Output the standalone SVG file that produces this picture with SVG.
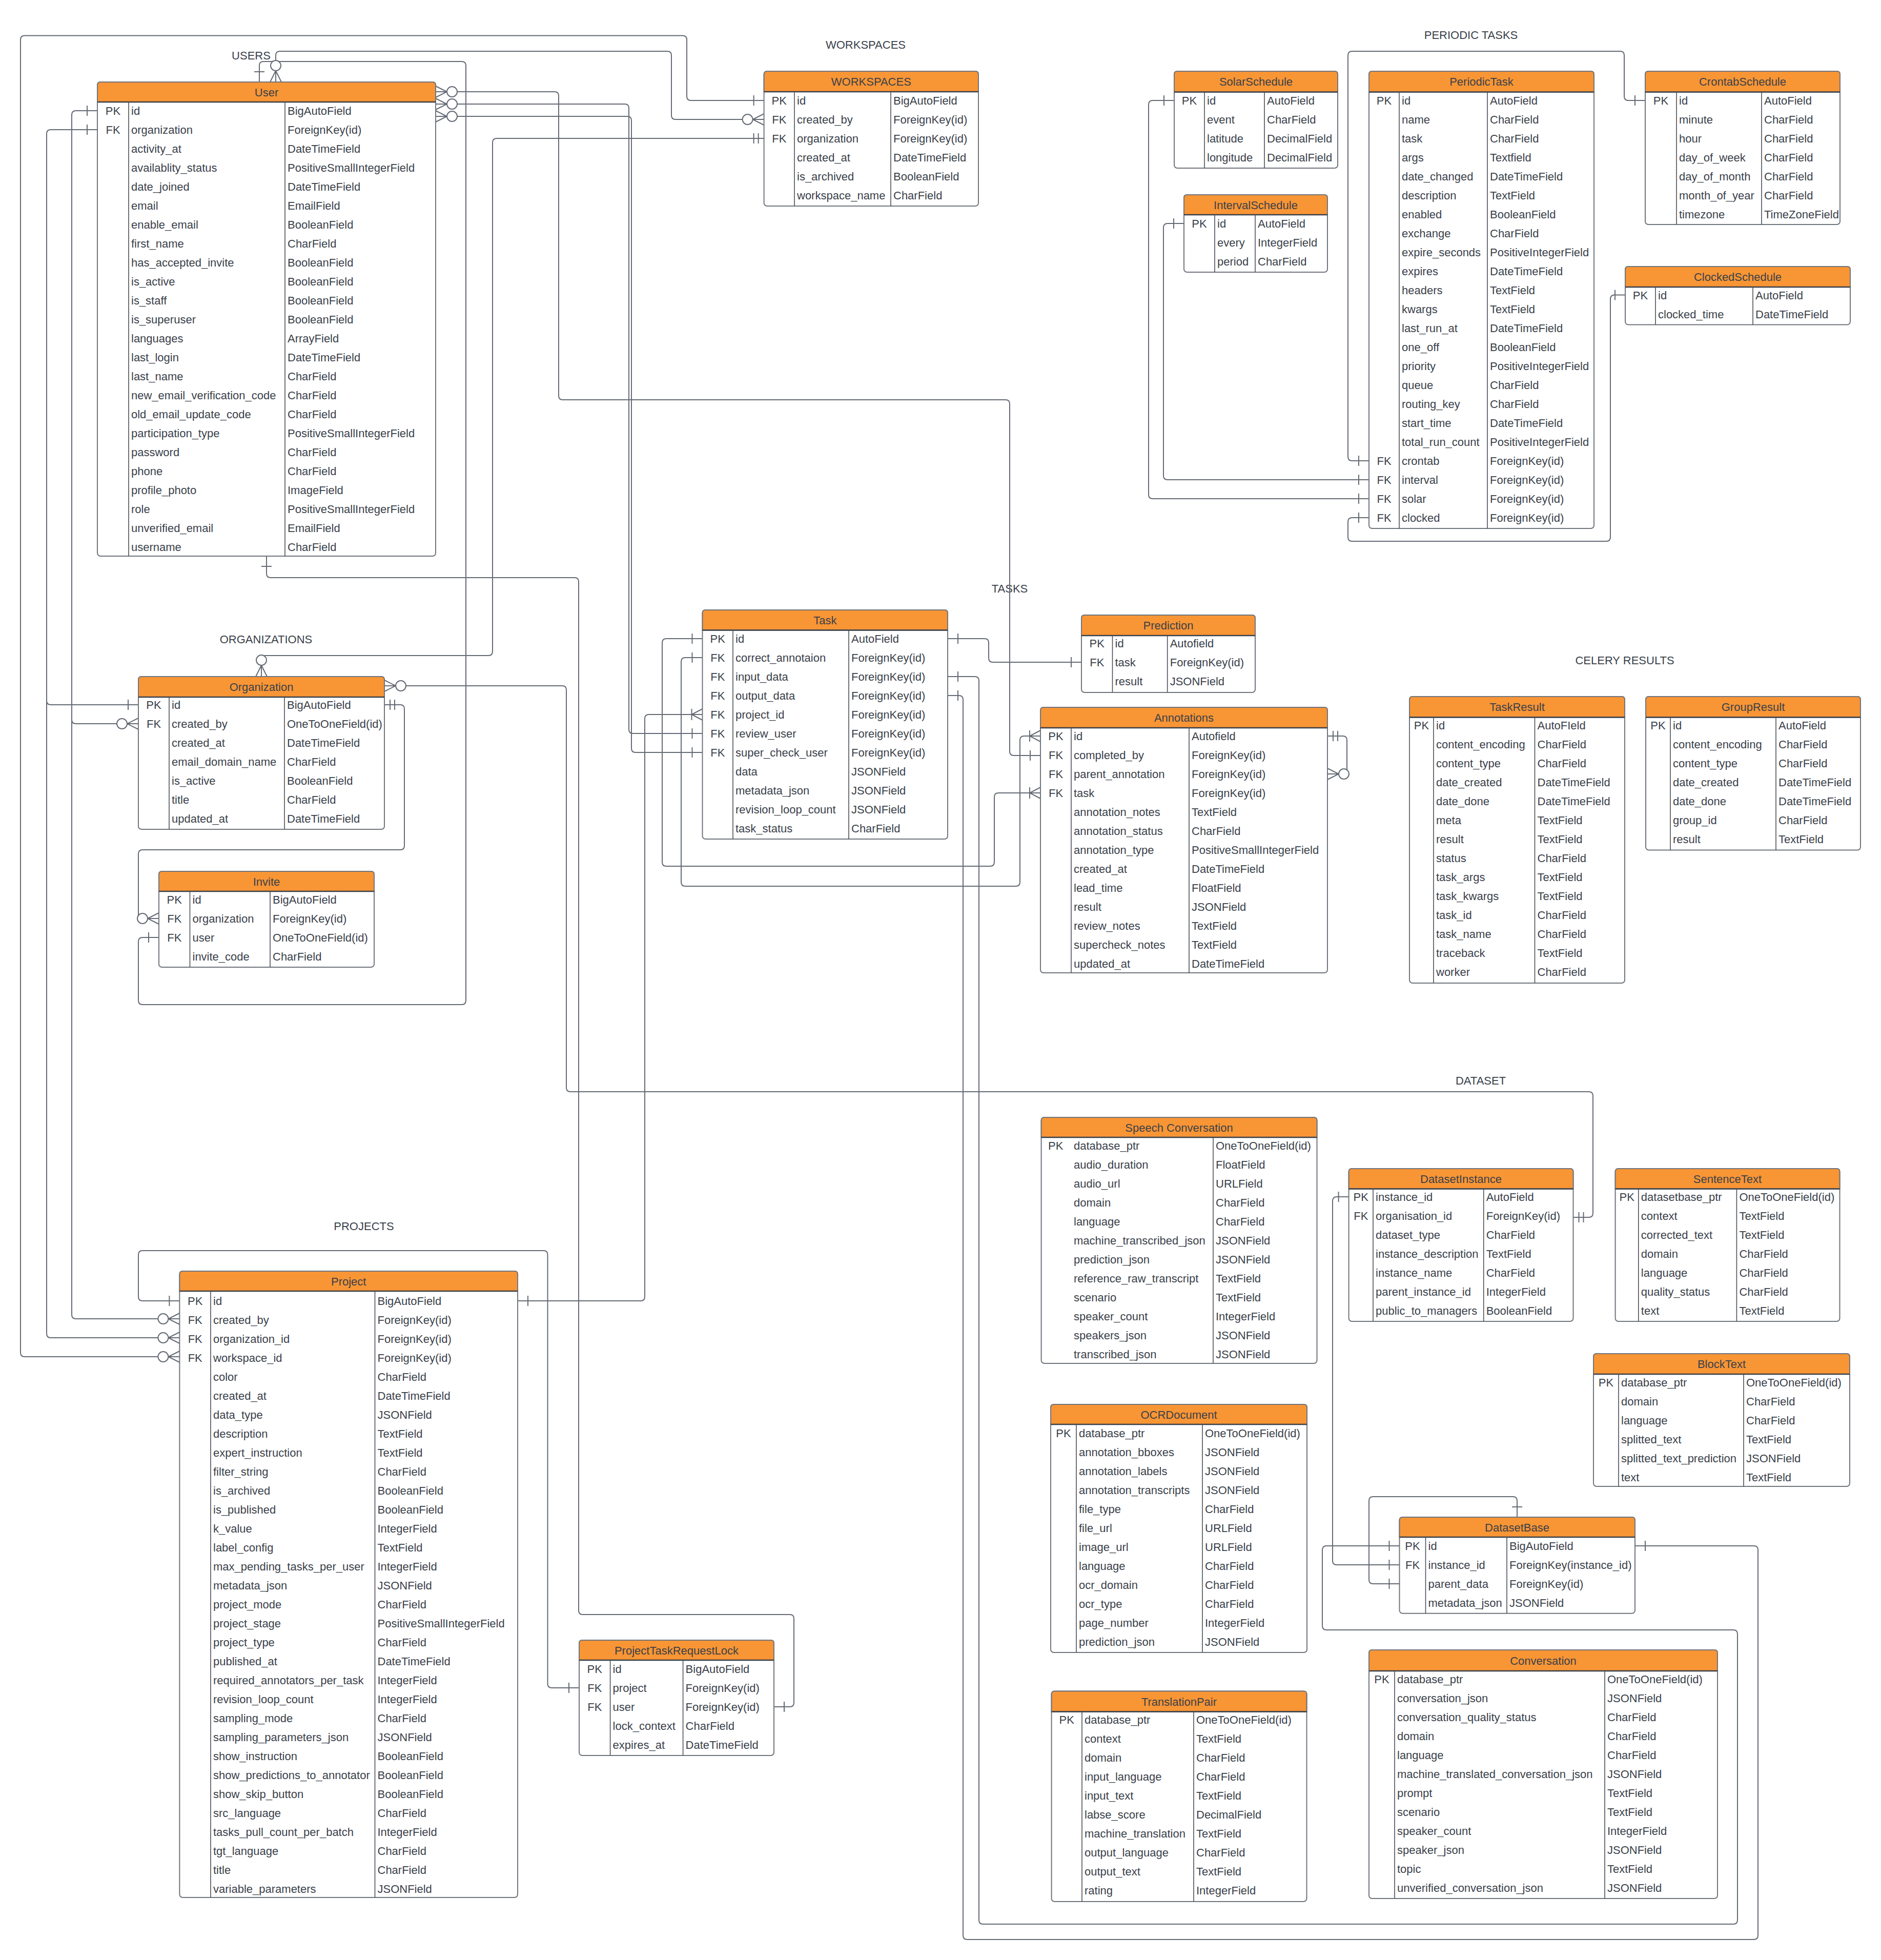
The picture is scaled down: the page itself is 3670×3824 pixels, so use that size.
<svg xmlns="http://www.w3.org/2000/svg" width="3670" height="3824" viewBox="0 0 3670 3824">
<style>
text{font-family:"Liberation Sans",Arial,sans-serif;font-size:22px;fill:#3a414a}
.c{text-anchor:middle}
.bx{fill:#fff;stroke:#70757d;stroke-width:2}
.hd{fill:#f89535;stroke:#70757d;stroke-width:2}
.hl{fill:none;stroke:#3a414a;stroke-width:2.5}
.sp{fill:none;stroke:#4a5059;stroke-width:1.6}
.cn{fill:none;stroke:#646a74;stroke-width:2;stroke-linejoin:round}
</style>
<defs>
<g id="one"><path d="M-20,-10V10" fill="none" stroke="#646a74" stroke-width="2"/></g>
<g id="one1"><path d="M-20,-10V10M-11,-10V10" fill="none" stroke="#646a74" stroke-width="2"/></g>
<g id="zm"><path d="M0,-11L-22,0L0,11" fill="none" stroke="#646a74" stroke-width="2"/><circle cx="-32" cy="0" r="10" fill="#fff" stroke="#646a74" stroke-width="2"/></g>
<g id="om"><path d="M0,-11L-21,0L0,11M-21,-11V11" fill="none" stroke="#646a74" stroke-width="2"/></g>
</defs>
<rect width="3670" height="3824" fill="#fff"/>

<!-- section captions -->
<g id="captions">
<text class="c" x="490" y="116">USERS</text>
<text class="c" x="1689" y="95">WORKSPACES</text>
<text class="c" x="2870" y="76">PERIODIC TASKS</text>
<text class="c" x="1970" y="1156">TASKS</text>
<text class="c" x="519" y="1255">ORGANIZATIONS</text>
<text class="c" x="3170" y="1296">CELERY RESULTS</text>
<text class="c" x="2889" y="2116">DATASET</text>
<text class="c" x="710" y="2400">PROJECTS</text>
</g>

<!-- relationship lines -->
<g id="connectors">
<path class="cn" d="M1490.6,196H1348Q1340,196 1340,188V77.5Q1340,69.5 1332,69.5H48Q40,69.5 40,77.5V2639Q40,2647 48,2647H350.4"/>
<path class="cn" d="M538,160V108Q538,100 546,100H1302Q1310,100 1310,108V225Q1310,233 1318,233H1490.6"/>
<path class="cn" d="M506,160V128Q506,120 514,120H901Q909,120 909,128V1952Q909,1960 901,1960H278Q270,1960 270,1952V1837Q270,1829 278,1829H310"/>
<path class="cn" d="M1490.6,270H969Q961,270 961,278V1271Q961,1279 953,1279H518Q510,1279 510,1287V1320"/>
<path class="cn" d="M190,216H148Q140,216 140,224V1404Q140,1412 148,1412H270"/>
<path class="cn" d="M140,1404V2565Q140,2573 148,2573H350.4"/>
<path class="cn" d="M190,253H99Q91,253 91,261V1367Q91,1375 99,1375H270"/>
<path class="cn" d="M91,1367V2602Q91,2610 99,2610H350.4"/>
<path class="cn" d="M750,1338H1097Q1105,1338 1105,1346V2122Q1105,2130 1113,2130H3100Q3108,2130 3108,2138V2367Q3108,2375 3100,2375H3069.5"/>
<path class="cn" d="M750,1375H781Q789,1375 789,1383V1650Q789,1658 781,1658H278Q270,1658 270,1666V1784Q270,1792 278,1792H310"/>
<path class="cn" d="M850,179H1082Q1090,179 1090,187V772Q1090,780 1098,780H1962Q1970,780 1970,788V1466Q1970,1474 1978,1474H2030"/>
<path class="cn" d="M850,203H1219Q1227,203 1227,211V1423Q1227,1431 1235,1431H1370.5"/>
<path class="cn" d="M850,227H1224Q1232,227 1232,235V1460Q1232,1468 1240,1468H1370.5"/>
<path class="cn" d="M1849,1246H1921Q1929,1246 1929,1254V1284Q1929,1292 1937,1292H2110"/>
<path class="cn" d="M1370.5,1246H1300Q1292,1246 1292,1254V1682Q1292,1690 1300,1690H1932Q1940,1690 1940,1682V1555Q1940,1547 1948,1547H2030"/>
<path class="cn" d="M1370.5,1283H1337Q1329,1283 1329,1291V1721Q1329,1729 1337,1729H1982Q1990,1729 1990,1721V1444Q1990,1436 1998,1436H2030"/>
<path class="cn" d="M1370.5,1394H1266Q1258,1394 1258,1402V2530Q1258,2538 1250,2538H1010"/>
<path class="cn" d="M1849,1320H1902Q1910,1320 1910,1328V3746Q1910,3754 1918,3754H3382Q3390,3754 3390,3746V3188Q3390,3180 3382,3180H2588Q2580,3180 2580,3172V3024Q2580,3016 2588,3016H2730.5"/>
<path class="cn" d="M1849,1357H1871Q1879,1357 1879,1365V3776Q1879,3784 1887,3784H3422Q3430,3784 3430,3776V3024Q3430,3016 3422,3016H3190"/>
<path class="cn" d="M2590,1436H2620Q2628,1436 2628,1444V1502Q2628,1510 2620,1510H2590"/>
<path class="cn" d="M350.4,2538H278Q270,2538 270,2530V2448Q270,2440 278,2440H1060.5Q1068.5,2440 1068.5,2448V3285Q1068.5,3293 1076.5,3293H1130"/>
<path class="cn" d="M520,1085V1119Q520,1127 528,1127H1121Q1129,1127 1129,1135V3142Q1129,3150 1137,3150H1541Q1549,3150 1549,3158V3322Q1549,3330 1541,3330H1510"/>
<path class="cn" d="M2960,2960V2928Q2960,2920 2952,2920H2679Q2671,2920 2671,2928V3082Q2671,3090 2679,3090H2730.5"/>
<path class="cn" d="M2730.5,3053H2608Q2600,3053 2600,3045V2343Q2600,2335 2608,2335H2631.6"/>
<path class="cn" d="M2671,899H2638Q2630,899 2630,891V108Q2630,100 2638,100H3161Q3169,100 3169,108V188Q3169,196 3177,196H3210"/>
<path class="cn" d="M2671,936H2278Q2270,936 2270,928V444Q2270,436 2278,436H2310"/>
<path class="cn" d="M2671,973H2249Q2241,973 2241,965V204Q2241,196 2249,196H2291"/>
<path class="cn" d="M2671,1010H2638Q2630,1010 2630,1018V1048Q2630,1056 2638,1056H3134Q3142,1056 3142,1048V583.5Q3142,575.5 3150,575.5H3171"/>
<!-- end notations -->
<use href="#one" transform="translate(1490.6,196)"/>
<use href="#zm" transform="translate(350.4,2647)"/>
<use href="#zm" transform="translate(538,160) rotate(90)"/>
<use href="#zm" transform="translate(1490.6,233)"/>
<use href="#one" transform="translate(506,160) rotate(90)"/>
<use href="#one" transform="translate(310,1829)"/>
<use href="#one1" transform="translate(1490.6,270)"/>
<use href="#zm" transform="translate(510,1320) rotate(90)"/>
<use href="#one" transform="translate(190,216)"/>
<use href="#zm" transform="translate(270,1412)"/>
<use href="#zm" transform="translate(350.4,2573)"/>
<use href="#one" transform="translate(190,253)"/>
<use href="#one" transform="translate(270,1375)"/>
<use href="#zm" transform="translate(350.4,2610)"/>
<use href="#zm" transform="translate(750,1338) scale(-1,1)"/>
<use href="#one1" transform="translate(3069.5,2375) scale(-1,1)"/>
<use href="#one1" transform="translate(750,1375) scale(-1,1)"/>
<use href="#zm" transform="translate(310,1792)"/>
<use href="#zm" transform="translate(850,179) scale(-1,1)"/>
<use href="#one" transform="translate(2030,1474)"/>
<use href="#zm" transform="translate(850,203) scale(-1,1)"/>
<use href="#one" transform="translate(1370.5,1431)"/>
<use href="#zm" transform="translate(850,227) scale(-1,1)"/>
<use href="#one" transform="translate(1370.5,1468)"/>
<use href="#one" transform="translate(1849,1246) scale(-1,1)"/>
<use href="#one" transform="translate(2110,1292)"/>
<use href="#one" transform="translate(1370.5,1246)"/>
<use href="#om" transform="translate(2030,1547)"/>
<use href="#one" transform="translate(1370.5,1283)"/>
<use href="#om" transform="translate(2030,1436)"/>
<use href="#om" transform="translate(1370.5,1394)"/>
<use href="#one" transform="translate(1010,2538) scale(-1,1)"/>
<use href="#one" transform="translate(1849,1320) scale(-1,1)"/>
<use href="#one" transform="translate(2730.5,3016)"/>
<use href="#one" transform="translate(1849,1357) scale(-1,1)"/>
<use href="#one" transform="translate(3190,3016) scale(-1,1)"/>
<use href="#one1" transform="translate(2590,1436) scale(-1,1)"/>
<use href="#zm" transform="translate(2590,1510) scale(-1,1)"/>
<use href="#one" transform="translate(350.4,2538)"/>
<use href="#one" transform="translate(1130,3293)"/>
<use href="#one" transform="translate(520,1085) rotate(-90)"/>
<use href="#one" transform="translate(1510,3330) scale(-1,1)"/>
<use href="#one" transform="translate(2960,2960) rotate(90)"/>
<use href="#one" transform="translate(2730.5,3090)"/>
<use href="#one" transform="translate(2730.5,3053)"/>
<use href="#one" transform="translate(2631.6,2335)"/>
<use href="#one" transform="translate(2671,899)"/>
<use href="#one" transform="translate(3210,196)"/>
<use href="#one" transform="translate(2671,936)"/>
<use href="#one" transform="translate(2310,436)"/>
<use href="#one" transform="translate(2671,973)"/>
<use href="#one" transform="translate(2291,196)"/>
<use href="#one" transform="translate(2671,1010)"/>
<use href="#one" transform="translate(3171,575.5)"/>
</g>

<g id="user">
<rect class="bx" x="190" y="160" width="660" height="925" rx="6"/>
<path class="hd" d="M190,199V166Q190,160 196,160H844Q850,160 850,166V199Z"/>
<path class="hl" d="M190,199H850"/>
<path class="sp" d="M251,199V1085M556,199V1085"/>
<text class="c" x="520" y="187.5">User</text>
<text class="c" x="220.5" y="224">PK<tspan x="220.5" dy="37">FK</tspan></text>
<text x="256" y="224">id<tspan x="256" dy="37">organization</tspan><tspan x="256" dy="37">activity_at</tspan><tspan x="256" dy="37">availablity_status</tspan><tspan x="256" dy="37">date_joined</tspan><tspan x="256" dy="37">email</tspan><tspan x="256" dy="37">enable_email</tspan><tspan x="256" dy="37">first_name</tspan><tspan x="256" dy="37">has_accepted_invite</tspan><tspan x="256" dy="37">is_active</tspan><tspan x="256" dy="37">is_staff</tspan><tspan x="256" dy="37">is_superuser</tspan><tspan x="256" dy="37">languages</tspan><tspan x="256" dy="37">last_login</tspan><tspan x="256" dy="37">last_name</tspan><tspan x="256" dy="37">new_email_verification_code</tspan><tspan x="256" dy="37">old_email_update_code</tspan><tspan x="256" dy="37">participation_type</tspan><tspan x="256" dy="37">password</tspan><tspan x="256" dy="37">phone</tspan><tspan x="256" dy="37">profile_photo</tspan><tspan x="256" dy="37">role</tspan><tspan x="256" dy="37">unverified_email</tspan><tspan x="256" dy="37">username</tspan></text>
<text x="561" y="224">BigAutoField<tspan x="561" dy="37">ForeignKey(id)</tspan><tspan x="561" dy="37">DateTimeField</tspan><tspan x="561" dy="37">PositiveSmallIntegerField</tspan><tspan x="561" dy="37">DateTimeField</tspan><tspan x="561" dy="37">EmailField</tspan><tspan x="561" dy="37">BooleanField</tspan><tspan x="561" dy="37">CharField</tspan><tspan x="561" dy="37">BooleanField</tspan><tspan x="561" dy="37">BooleanField</tspan><tspan x="561" dy="37">BooleanField</tspan><tspan x="561" dy="37">BooleanField</tspan><tspan x="561" dy="37">ArrayField</tspan><tspan x="561" dy="37">DateTimeField</tspan><tspan x="561" dy="37">CharField</tspan><tspan x="561" dy="37">CharField</tspan><tspan x="561" dy="37">CharField</tspan><tspan x="561" dy="37">PositiveSmallIntegerField</tspan><tspan x="561" dy="37">CharField</tspan><tspan x="561" dy="37">CharField</tspan><tspan x="561" dy="37">ImageField</tspan><tspan x="561" dy="37">PositiveSmallIntegerField</tspan><tspan x="561" dy="37">EmailField</tspan><tspan x="561" dy="37">CharField</tspan></text>
</g>

<g id="workspaces">
<rect class="bx" x="1490.6" y="139" width="418.4" height="263" rx="6"/>
<path class="hd" d="M1490.6,179V145Q1490.6,139 1496.6,139H1903Q1909,139 1909,145V179Z"/>
<path class="hl" d="M1490.6,179H1909"/>
<path class="sp" d="M1550,179V402M1738,179V402"/>
<text class="c" x="1699.8" y="167">WORKSPACES</text>
<text class="c" x="1520.3" y="204">PK<tspan x="1520.3" dy="37">FK</tspan><tspan x="1520.3" dy="37">FK</tspan></text>
<text x="1555" y="204">id<tspan x="1555" dy="37">created_by</tspan><tspan x="1555" dy="37">organization</tspan><tspan x="1555" dy="37">created_at</tspan><tspan x="1555" dy="37">is_archived</tspan><tspan x="1555" dy="37">workspace_name</tspan></text>
<text x="1743" y="204">BigAutoField<tspan x="1743" dy="37">ForeignKey(id)</tspan><tspan x="1743" dy="37">ForeignKey(id)</tspan><tspan x="1743" dy="37">DateTimeField</tspan><tspan x="1743" dy="37">BooleanField</tspan><tspan x="1743" dy="37">CharField</tspan></text>
</g>

<g id="solar-schedule">
<rect class="bx" x="2291" y="139" width="319" height="189" rx="6"/>
<path class="hd" d="M2291,179.5V145Q2291,139 2297,139H2604Q2610,139 2610,145V179.5Z"/>
<path class="hl" d="M2291,179.5H2610"/>
<path class="sp" d="M2350,179.5V328M2467,179.5V328"/>
<text class="c" x="2450.5" y="167">SolarSchedule</text>
<text class="c" x="2320.5" y="204">PK</text>
<text x="2355" y="204">id<tspan x="2355" dy="37">event</tspan><tspan x="2355" dy="37">latitude</tspan><tspan x="2355" dy="37">longitude</tspan></text>
<text x="2472" y="204">AutoField<tspan x="2472" dy="37">CharField</tspan><tspan x="2472" dy="37">DecimalField</tspan><tspan x="2472" dy="37">DecimalField</tspan></text>
</g>

<g id="interval-schedule">
<rect class="bx" x="2310" y="380" width="280" height="151" rx="6"/>
<path class="hd" d="M2310,419V386Q2310,380 2316,380H2584Q2590,380 2590,386V419Z"/>
<path class="hl" d="M2310,419H2590"/>
<path class="sp" d="M2370,419V531M2449,419V531"/>
<text class="c" x="2450" y="407.5">IntervalSchedule</text>
<text class="c" x="2340" y="444">PK</text>
<text x="2375" y="444">id<tspan x="2375" dy="37">every</tspan><tspan x="2375" dy="37">period</tspan></text>
<text x="2454" y="444">AutoField<tspan x="2454" dy="37">IntegerField</tspan><tspan x="2454" dy="37">CharField</tspan></text>
</g>

<g id="periodic-task">
<rect class="bx" x="2671" y="139" width="439" height="892" rx="6"/>
<path class="hd" d="M2671,179.5V145Q2671,139 2677,139H3104Q3110,139 3110,145V179.5Z"/>
<path class="hl" d="M2671,179.5H3110"/>
<path class="sp" d="M2730,179.5V1031M2902,179.5V1031"/>
<text class="c" x="2890.5" y="167">PeriodicTask</text>
<text class="c" x="2700.5" y="204">PK</text>
<text class="c" x="2700.5" y="907">FK<tspan x="2700.5" dy="37">FK</tspan><tspan x="2700.5" dy="37">FK</tspan><tspan x="2700.5" dy="37">FK</tspan></text>
<text x="2735" y="204">id<tspan x="2735" dy="37">name</tspan><tspan x="2735" dy="37">task</tspan><tspan x="2735" dy="37">args</tspan><tspan x="2735" dy="37">date_changed</tspan><tspan x="2735" dy="37">description</tspan><tspan x="2735" dy="37">enabled</tspan><tspan x="2735" dy="37">exchange</tspan><tspan x="2735" dy="37">expire_seconds</tspan><tspan x="2735" dy="37">expires</tspan><tspan x="2735" dy="37">headers</tspan><tspan x="2735" dy="37">kwargs</tspan><tspan x="2735" dy="37">last_run_at</tspan><tspan x="2735" dy="37">one_off</tspan><tspan x="2735" dy="37">priority</tspan><tspan x="2735" dy="37">queue</tspan><tspan x="2735" dy="37">routing_key</tspan><tspan x="2735" dy="37">start_time</tspan><tspan x="2735" dy="37">total_run_count</tspan><tspan x="2735" dy="37">crontab</tspan><tspan x="2735" dy="37">interval</tspan><tspan x="2735" dy="37">solar</tspan><tspan x="2735" dy="37">clocked</tspan></text>
<text x="2907" y="204">AutoField<tspan x="2907" dy="37">CharField</tspan><tspan x="2907" dy="37">CharField</tspan><tspan x="2907" dy="37">Textfield</tspan><tspan x="2907" dy="37">DateTimeField</tspan><tspan x="2907" dy="37">TextField</tspan><tspan x="2907" dy="37">BooleanField</tspan><tspan x="2907" dy="37">CharField</tspan><tspan x="2907" dy="37">PositiveIntegerField</tspan><tspan x="2907" dy="37">DateTimeField</tspan><tspan x="2907" dy="37">TextField</tspan><tspan x="2907" dy="37">TextField</tspan><tspan x="2907" dy="37">DateTimeField</tspan><tspan x="2907" dy="37">BooleanField</tspan><tspan x="2907" dy="37">PositiveIntegerField</tspan><tspan x="2907" dy="37">CharField</tspan><tspan x="2907" dy="37">CharField</tspan><tspan x="2907" dy="37">DateTimeField</tspan><tspan x="2907" dy="37">PositiveIntegerField</tspan><tspan x="2907" dy="37">ForeignKey(id)</tspan><tspan x="2907" dy="37">ForeignKey(id)</tspan><tspan x="2907" dy="37">ForeignKey(id)</tspan><tspan x="2907" dy="37">ForeignKey(id)</tspan></text>
</g>

<g id="crontab-schedule">
<rect class="bx" x="3210" y="139" width="380" height="299" rx="6"/>
<path class="hd" d="M3210,179.5V145Q3210,139 3216,139H3584Q3590,139 3590,145V179.5Z"/>
<path class="hl" d="M3210,179.5H3590"/>
<path class="sp" d="M3271,179.5V438M3437,179.5V438"/>
<text class="c" x="3400" y="167">CrontabSchedule</text>
<text class="c" x="3240.5" y="204">PK</text>
<text x="3276" y="204">id<tspan x="3276" dy="37">minute</tspan><tspan x="3276" dy="37">hour</tspan><tspan x="3276" dy="37">day_of_week</tspan><tspan x="3276" dy="37">day_of_month</tspan><tspan x="3276" dy="37">month_of_year</tspan><tspan x="3276" dy="37">timezone</tspan></text>
<text x="3442" y="204">AutoField<tspan x="3442" dy="37">CharField</tspan><tspan x="3442" dy="37">CharField</tspan><tspan x="3442" dy="37">CharField</tspan><tspan x="3442" dy="37">CharField</tspan><tspan x="3442" dy="37">CharField</tspan><tspan x="3442" dy="37">TimeZoneField</tspan></text>
</g>

<g id="clocked-schedule">
<rect class="bx" x="3171" y="520" width="439" height="113.6" rx="6"/>
<path class="hd" d="M3171,560V526Q3171,520 3177,520H3604Q3610,520 3610,526V560Z"/>
<path class="hl" d="M3171,560H3610"/>
<path class="sp" d="M3230,560V633.6M3420,560V633.6"/>
<text class="c" x="3390.5" y="548">ClockedSchedule</text>
<text class="c" x="3200.5" y="583.5">PK</text>
<text x="3235" y="583.5">id<tspan x="3235" dy="37">clocked_time</tspan></text>
<text x="3425" y="583.5">AutoField<tspan x="3425" dy="37">DateTimeField</tspan></text>
</g>

<g id="task">
<rect class="bx" x="1370.5" y="1190" width="478.5" height="447" rx="6"/>
<path class="hd" d="M1370.5,1229.5V1196Q1370.5,1190 1376.5,1190H1843Q1849,1190 1849,1196V1229.5Z"/>
<path class="hl" d="M1370.5,1229.5H1849"/>
<path class="sp" d="M1430,1229.5V1637M1656,1229.5V1637"/>
<text class="c" x="1609.8" y="1218">Task</text>
<text class="c" x="1400.3" y="1254">PK<tspan x="1400.3" dy="37">FK</tspan><tspan x="1400.3" dy="37">FK</tspan><tspan x="1400.3" dy="37">FK</tspan><tspan x="1400.3" dy="37">FK</tspan><tspan x="1400.3" dy="37">FK</tspan><tspan x="1400.3" dy="37">FK</tspan></text>
<text x="1435" y="1254">id<tspan x="1435" dy="37">correct_annotaion</tspan><tspan x="1435" dy="37">input_data</tspan><tspan x="1435" dy="37">output_data</tspan><tspan x="1435" dy="37">project_id</tspan><tspan x="1435" dy="37">review_user</tspan><tspan x="1435" dy="37">super_check_user</tspan><tspan x="1435" dy="37">data</tspan><tspan x="1435" dy="37">metadata_json</tspan><tspan x="1435" dy="37">revision_loop_count</tspan><tspan x="1435" dy="37">task_status</tspan></text>
<text x="1661" y="1254">AutoField<tspan x="1661" dy="37">ForeignKey(id)</tspan><tspan x="1661" dy="37">ForeignKey(id)</tspan><tspan x="1661" dy="37">ForeignKey(id)</tspan><tspan x="1661" dy="37">ForeignKey(id)</tspan><tspan x="1661" dy="37">ForeignKey(id)</tspan><tspan x="1661" dy="37">ForeignKey(id)</tspan><tspan x="1661" dy="37">JSONField</tspan><tspan x="1661" dy="37">JSONField</tspan><tspan x="1661" dy="37">JSONField</tspan><tspan x="1661" dy="37">CharField</tspan></text>
</g>

<g id="prediction">
<rect class="bx" x="2110" y="1200" width="339" height="151" rx="6"/>
<path class="hd" d="M2110,1240V1206Q2110,1200 2116,1200H2443Q2449,1200 2449,1206V1240Z"/>
<path class="hl" d="M2110,1240H2449"/>
<path class="sp" d="M2170.5,1240V1351M2277.7,1240V1351"/>
<text class="c" x="2279.5" y="1228">Prediction</text>
<text class="c" x="2140.3" y="1263">PK<tspan x="2140.3" dy="37">FK</tspan></text>
<text x="2175.5" y="1263">id<tspan x="2175.5" dy="37">task</tspan><tspan x="2175.5" dy="37">result</tspan></text>
<text x="2282.7" y="1263">Autofield<tspan x="2282.7" dy="37">ForeignKey(id)</tspan><tspan x="2282.7" dy="37">JSONField</tspan></text>
</g>

<g id="annotations">
<rect class="bx" x="2030" y="1380" width="560" height="518" rx="6"/>
<path class="hd" d="M2030,1420V1386Q2030,1380 2036,1380H2584Q2590,1380 2590,1386V1420Z"/>
<path class="hl" d="M2030,1420H2590"/>
<path class="sp" d="M2090,1420V1898M2320,1420V1898"/>
<text class="c" x="2310" y="1408">Annotations</text>
<text class="c" x="2060" y="1444">PK<tspan x="2060" dy="37">FK</tspan><tspan x="2060" dy="37">FK</tspan><tspan x="2060" dy="37">FK</tspan></text>
<text x="2095" y="1444">id<tspan x="2095" dy="37">completed_by</tspan><tspan x="2095" dy="37">parent_annotation</tspan><tspan x="2095" dy="37">task</tspan><tspan x="2095" dy="37">annotation_notes</tspan><tspan x="2095" dy="37">annotation_status</tspan><tspan x="2095" dy="37">annotation_type</tspan><tspan x="2095" dy="37">created_at</tspan><tspan x="2095" dy="37">lead_time</tspan><tspan x="2095" dy="37">result</tspan><tspan x="2095" dy="37">review_notes</tspan><tspan x="2095" dy="37">supercheck_notes</tspan><tspan x="2095" dy="37">updated_at</tspan></text>
<text x="2325" y="1444">Autofield<tspan x="2325" dy="37">ForeignKey(id)</tspan><tspan x="2325" dy="37">ForeignKey(id)</tspan><tspan x="2325" dy="37">ForeignKey(id)</tspan><tspan x="2325" dy="37">TextField</tspan><tspan x="2325" dy="37">CharField</tspan><tspan x="2325" dy="37">PositiveSmallIntegerField</tspan><tspan x="2325" dy="37">DateTimeField</tspan><tspan x="2325" dy="37">FloatField</tspan><tspan x="2325" dy="37">JSONField</tspan><tspan x="2325" dy="37">TextField</tspan><tspan x="2325" dy="37">TextField</tspan><tspan x="2325" dy="37">DateTimeField</tspan></text>
</g>

<g id="organization">
<rect class="bx" x="270" y="1320" width="480" height="298" rx="6"/>
<path class="hd" d="M270,1360V1326Q270,1320 276,1320H744Q750,1320 750,1326V1360Z"/>
<path class="hl" d="M270,1360H750"/>
<path class="sp" d="M330,1360V1618M555,1360V1618"/>
<text class="c" x="510" y="1348">Organization</text>
<text class="c" x="300" y="1383">PK<tspan x="300" dy="37">FK</tspan></text>
<text x="335" y="1383">id<tspan x="335" dy="37">created_by</tspan><tspan x="335" dy="37">created_at</tspan><tspan x="335" dy="37">email_domain_name</tspan><tspan x="335" dy="37">is_active</tspan><tspan x="335" dy="37">title</tspan><tspan x="335" dy="37">updated_at</tspan></text>
<text x="560" y="1383">BigAutoField<tspan x="560" dy="37">OneToOneField(id)</tspan><tspan x="560" dy="37">DateTimeField</tspan><tspan x="560" dy="37">CharField</tspan><tspan x="560" dy="37">BooleanField</tspan><tspan x="560" dy="37">CharField</tspan><tspan x="560" dy="37">DateTimeField</tspan></text>
</g>

<g id="invite">
<rect class="bx" x="310" y="1700" width="420" height="187" rx="6"/>
<path class="hd" d="M310,1739V1706Q310,1700 316,1700H724Q730,1700 730,1706V1739Z"/>
<path class="hl" d="M310,1739H730"/>
<path class="sp" d="M370.5,1739V1887M527,1739V1887"/>
<text class="c" x="520" y="1727.5">Invite</text>
<text class="c" x="340.3" y="1762.6">PK<tspan x="340.3" dy="37">FK</tspan><tspan x="340.3" dy="37">FK</tspan></text>
<text x="375.5" y="1762.6">id<tspan x="375.5" dy="37">organization</tspan><tspan x="375.5" dy="37">user</tspan><tspan x="375.5" dy="37">invite_code</tspan></text>
<text x="532" y="1762.6">BigAutoField<tspan x="532" dy="37">ForeignKey(id)</tspan><tspan x="532" dy="37">OneToOneField(id)</tspan><tspan x="532" dy="37">CharField</tspan></text>
</g>

<g id="project">
<rect class="bx" x="350.4" y="2480" width="659.6" height="1222" rx="6"/>
<path class="hd" d="M350.4,2519V2486Q350.4,2480 356.4,2480H1004Q1010,2480 1010,2486V2519Z"/>
<path class="hl" d="M350.4,2519H1010"/>
<path class="sp" d="M411,2519V3702M731.5,2519V3702"/>
<text class="c" x="680.2" y="2507.5">Project</text>
<text class="c" x="380.7" y="2546">PK<tspan x="380.7" dy="37">FK</tspan><tspan x="380.7" dy="37">FK</tspan><tspan x="380.7" dy="37">FK</tspan></text>
<text x="416" y="2546">id<tspan x="416" dy="37">created_by</tspan><tspan x="416" dy="37">organization_id</tspan><tspan x="416" dy="37">workspace_id</tspan><tspan x="416" dy="37">color</tspan><tspan x="416" dy="37">created_at</tspan><tspan x="416" dy="37">data_type</tspan><tspan x="416" dy="37">description</tspan><tspan x="416" dy="37">expert_instruction</tspan><tspan x="416" dy="37">filter_string</tspan><tspan x="416" dy="37">is_archived</tspan><tspan x="416" dy="37">is_published</tspan><tspan x="416" dy="37">k_value</tspan><tspan x="416" dy="37">label_config</tspan><tspan x="416" dy="37">max_pending_tasks_per_user</tspan><tspan x="416" dy="37">metadata_json</tspan><tspan x="416" dy="37">project_mode</tspan><tspan x="416" dy="37">project_stage</tspan><tspan x="416" dy="37">project_type</tspan><tspan x="416" dy="37">published_at</tspan><tspan x="416" dy="37">required_annotators_per_task</tspan><tspan x="416" dy="37">revision_loop_count</tspan><tspan x="416" dy="37">sampling_mode</tspan><tspan x="416" dy="37">sampling_parameters_json</tspan><tspan x="416" dy="37">show_instruction</tspan><tspan x="416" dy="37">show_predictions_to_annotator</tspan><tspan x="416" dy="37">show_skip_button</tspan><tspan x="416" dy="37">src_language</tspan><tspan x="416" dy="37">tasks_pull_count_per_batch</tspan><tspan x="416" dy="37">tgt_language</tspan><tspan x="416" dy="37">title</tspan><tspan x="416" dy="37">variable_parameters</tspan></text>
<text x="736.5" y="2546">BigAutoField<tspan x="736.5" dy="37">ForeignKey(id)</tspan><tspan x="736.5" dy="37">ForeignKey(id)</tspan><tspan x="736.5" dy="37">ForeignKey(id)</tspan><tspan x="736.5" dy="37">CharField</tspan><tspan x="736.5" dy="37">DateTimeField</tspan><tspan x="736.5" dy="37">JSONField</tspan><tspan x="736.5" dy="37">TextField</tspan><tspan x="736.5" dy="37">TextField</tspan><tspan x="736.5" dy="37">CharField</tspan><tspan x="736.5" dy="37">BooleanField</tspan><tspan x="736.5" dy="37">BooleanField</tspan><tspan x="736.5" dy="37">IntegerField</tspan><tspan x="736.5" dy="37">TextField</tspan><tspan x="736.5" dy="37">IntegerField</tspan><tspan x="736.5" dy="37">JSONField</tspan><tspan x="736.5" dy="37">CharField</tspan><tspan x="736.5" dy="37">PositiveSmallIntegerField</tspan><tspan x="736.5" dy="37">CharField</tspan><tspan x="736.5" dy="37">DateTimeField</tspan><tspan x="736.5" dy="37">IntegerField</tspan><tspan x="736.5" dy="37">IntegerField</tspan><tspan x="736.5" dy="37">CharField</tspan><tspan x="736.5" dy="37">JSONField</tspan><tspan x="736.5" dy="37">BooleanField</tspan><tspan x="736.5" dy="37">BooleanField</tspan><tspan x="736.5" dy="37">BooleanField</tspan><tspan x="736.5" dy="37">CharField</tspan><tspan x="736.5" dy="37">IntegerField</tspan><tspan x="736.5" dy="37">CharField</tspan><tspan x="736.5" dy="37">CharField</tspan><tspan x="736.5" dy="37">JSONField</tspan></text>
</g>

<g id="project-task-request-lock">
<rect class="bx" x="1130" y="3200" width="380" height="225" rx="6"/>
<path class="hd" d="M1130,3239V3206Q1130,3200 1136,3200H1504Q1510,3200 1510,3206V3239Z"/>
<path class="hl" d="M1130,3239H1510"/>
<path class="sp" d="M1190.6,3239V3425M1332.6,3239V3425"/>
<text class="c" x="1320" y="3227.5">ProjectTaskRequestLock</text>
<text class="c" x="1160.3" y="3264">PK<tspan x="1160.3" dy="37">FK</tspan><tspan x="1160.3" dy="37">FK</tspan></text>
<text x="1195.6" y="3264">id<tspan x="1195.6" dy="37">project</tspan><tspan x="1195.6" dy="37">user</tspan><tspan x="1195.6" dy="37">lock_context</tspan><tspan x="1195.6" dy="37">expires_at</tspan></text>
<text x="1337.6" y="3264">BigAutoField<tspan x="1337.6" dy="37">ForeignKey(id)</tspan><tspan x="1337.6" dy="37">ForeignKey(id)</tspan><tspan x="1337.6" dy="37">CharField</tspan><tspan x="1337.6" dy="37">DateTimeField</tspan></text>
</g>

<g id="task-result">
<rect class="bx" x="2750" y="1359" width="420" height="559" rx="6"/>
<path class="hd" d="M2750,1399.5V1365Q2750,1359 2756,1359H3164Q3170,1359 3170,1365V1399.5Z"/>
<path class="hl" d="M2750,1399.5H3170"/>
<path class="sp" d="M2797,1399.5V1918M2994.5,1399.5V1918"/>
<text class="c" x="2960" y="1387">TaskResult</text>
<text class="c" x="2773.5" y="1423">PK</text>
<text x="2802" y="1423">id<tspan x="2802" dy="37">content_encoding</tspan><tspan x="2802" dy="37">content_type</tspan><tspan x="2802" dy="37">date_created</tspan><tspan x="2802" dy="37">date_done</tspan><tspan x="2802" dy="37">meta</tspan><tspan x="2802" dy="37">result</tspan><tspan x="2802" dy="37">status</tspan><tspan x="2802" dy="37">task_args</tspan><tspan x="2802" dy="37">task_kwargs</tspan><tspan x="2802" dy="37">task_id</tspan><tspan x="2802" dy="37">task_name</tspan><tspan x="2802" dy="37">traceback</tspan><tspan x="2802" dy="37">worker</tspan></text>
<text x="2999.5" y="1423">AutoFIeld<tspan x="2999.5" dy="37">CharField</tspan><tspan x="2999.5" dy="37">CharField</tspan><tspan x="2999.5" dy="37">DateTimeField</tspan><tspan x="2999.5" dy="37">DateTimeField</tspan><tspan x="2999.5" dy="37">TextField</tspan><tspan x="2999.5" dy="37">TextField</tspan><tspan x="2999.5" dy="37">CharField</tspan><tspan x="2999.5" dy="37">TextField</tspan><tspan x="2999.5" dy="37">TextField</tspan><tspan x="2999.5" dy="37">CharField</tspan><tspan x="2999.5" dy="37">CharField</tspan><tspan x="2999.5" dy="37">TextField</tspan><tspan x="2999.5" dy="37">CharField</tspan></text>
</g>

<g id="group-result">
<rect class="bx" x="3211" y="1359" width="419" height="299.5" rx="6"/>
<path class="hd" d="M3211,1399.5V1365Q3211,1359 3217,1359H3624Q3630,1359 3630,1365V1399.5Z"/>
<path class="hl" d="M3211,1399.5H3630"/>
<path class="sp" d="M3259,1399.5V1658.5M3465,1399.5V1658.5"/>
<text class="c" x="3420.5" y="1387">GroupResult</text>
<text class="c" x="3235" y="1423">PK</text>
<text x="3264" y="1423">id<tspan x="3264" dy="37">content_encoding</tspan><tspan x="3264" dy="37">content_type</tspan><tspan x="3264" dy="37">date_created</tspan><tspan x="3264" dy="37">date_done</tspan><tspan x="3264" dy="37">group_id</tspan><tspan x="3264" dy="37">result</tspan></text>
<text x="3470" y="1423">AutoField<tspan x="3470" dy="37">CharField</tspan><tspan x="3470" dy="37">CharField</tspan><tspan x="3470" dy="37">DateTimeField</tspan><tspan x="3470" dy="37">DateTimeField</tspan><tspan x="3470" dy="37">CharField</tspan><tspan x="3470" dy="37">TextField</tspan></text>
</g>

<g id="speech-conversation">
<rect class="bx" x="2031.6" y="2180" width="537.9" height="480" rx="6"/>
<path class="hd" d="M2031.6,2219V2186Q2031.6,2180 2037.6,2180H2563.5Q2569.5,2180 2569.5,2186V2219Z"/>
<path class="hl" d="M2031.6,2219H2569.5"/>
<path class="sp" d="M2367,2219V2660"/>
<text class="c" x="2300.5" y="2207.5">Speech Conversation</text>
<text class="c" x="2059.7" y="2243.4">PK</text>
<text x="2095" y="2243.4">database_ptr<tspan x="2095" dy="37">audio_duration</tspan><tspan x="2095" dy="37">audio_url</tspan><tspan x="2095" dy="37">domain</tspan><tspan x="2095" dy="37">language</tspan><tspan x="2095" dy="37">machine_transcribed_json</tspan><tspan x="2095" dy="37">prediction_json</tspan><tspan x="2095" dy="37">reference_raw_transcript</tspan><tspan x="2095" dy="37">scenario</tspan><tspan x="2095" dy="37">speaker_count</tspan><tspan x="2095" dy="37">speakers_json</tspan><tspan x="2095" dy="37">transcribed_json</tspan></text>
<text x="2372" y="2243.4">OneToOneField(id)<tspan x="2372" dy="37">FloatField</tspan><tspan x="2372" dy="37">URLField</tspan><tspan x="2372" dy="37">CharField</tspan><tspan x="2372" dy="37">CharField</tspan><tspan x="2372" dy="37">JSONField</tspan><tspan x="2372" dy="37">JSONField</tspan><tspan x="2372" dy="37">TextField</tspan><tspan x="2372" dy="37">TextField</tspan><tspan x="2372" dy="37">IntegerField</tspan><tspan x="2372" dy="37">JSONField</tspan><tspan x="2372" dy="37">JSONField</tspan></text>
</g>

<g id="dataset-instance">
<rect class="bx" x="2631.6" y="2280" width="437.9" height="298" rx="6"/>
<path class="hd" d="M2631.6,2319.6V2286Q2631.6,2280 2637.6,2280H3063.5Q3069.5,2280 3069.5,2286V2319.6Z"/>
<path class="hl" d="M2631.6,2319.6H3069.5"/>
<path class="sp" d="M2679,2319.6V2578M2894.7,2319.6V2578"/>
<text class="c" x="2850.5" y="2307.8">DatasetInstance</text>
<text class="c" x="2655.3" y="2343.4">PK<tspan x="2655.3" dy="37">FK</tspan></text>
<text x="2684" y="2343.4">instance_id<tspan x="2684" dy="37">organisation_id</tspan><tspan x="2684" dy="37">dataset_type</tspan><tspan x="2684" dy="37">instance_description</tspan><tspan x="2684" dy="37">instance_name</tspan><tspan x="2684" dy="37">parent_instance_id</tspan><tspan x="2684" dy="37">public_to_managers</tspan></text>
<text x="2899.7" y="2343.4">AutoField<tspan x="2899.7" dy="37">ForeignKey(id)</tspan><tspan x="2899.7" dy="37">CharField</tspan><tspan x="2899.7" dy="37">TextField</tspan><tspan x="2899.7" dy="37">CharField</tspan><tspan x="2899.7" dy="37">IntegerField</tspan><tspan x="2899.7" dy="37">BooleanField</tspan></text>
</g>

<g id="sentence-text">
<rect class="bx" x="3151.6" y="2280" width="437.9" height="298" rx="6"/>
<path class="hd" d="M3151.6,2319.6V2286Q3151.6,2280 3157.6,2280H3583.5Q3589.5,2280 3589.5,2286V2319.6Z"/>
<path class="hl" d="M3151.6,2319.6H3589.5"/>
<path class="sp" d="M3196.8,2319.6V2578M3388.4,2319.6V2578"/>
<text class="c" x="3370.5" y="2307.8">SentenceText</text>
<text class="c" x="3174.2" y="2343.4">PK</text>
<text x="3201.8" y="2343.4">datasetbase_ptr<tspan x="3201.8" dy="37">context</tspan><tspan x="3201.8" dy="37">corrected_text</tspan><tspan x="3201.8" dy="37">domain</tspan><tspan x="3201.8" dy="37">language</tspan><tspan x="3201.8" dy="37">quality_status</tspan><tspan x="3201.8" dy="37">text</tspan></text>
<text x="3393.4" y="2343.4">OneToOneField(id)<tspan x="3393.4" dy="37">TextField</tspan><tspan x="3393.4" dy="37">TextField</tspan><tspan x="3393.4" dy="37">CharField</tspan><tspan x="3393.4" dy="37">CharField</tspan><tspan x="3393.4" dy="37">CharField</tspan><tspan x="3393.4" dy="37">TextField</tspan></text>
</g>

<g id="block-text">
<rect class="bx" x="3109" y="2641" width="500" height="259" rx="6"/>
<path class="hd" d="M3109,2681V2647Q3109,2641 3115,2641H3603Q3609,2641 3609,2647V2681Z"/>
<path class="hl" d="M3109,2681H3609"/>
<path class="sp" d="M3158,2681V2900M3402,2681V2900"/>
<text class="c" x="3359" y="2669">BlockText</text>
<text class="c" x="3133.5" y="2705">PK</text>
<text x="3163" y="2705">database_ptr<tspan x="3163" dy="37">domain</tspan><tspan x="3163" dy="37">language</tspan><tspan x="3163" dy="37">splitted_text</tspan><tspan x="3163" dy="37">splitted_text_prediction</tspan><tspan x="3163" dy="37">text</tspan></text>
<text x="3407" y="2705">OneToOneField(id)<tspan x="3407" dy="37">CharField</tspan><tspan x="3407" dy="37">CharField</tspan><tspan x="3407" dy="37">TextField</tspan><tspan x="3407" dy="37">JSONField</tspan><tspan x="3407" dy="37">TextField</tspan></text>
</g>

<g id="dataset-base">
<rect class="bx" x="2730.5" y="2960" width="459.5" height="187.7" rx="6"/>
<path class="hd" d="M2730.5,2999V2966Q2730.5,2960 2736.5,2960H3184Q3190,2960 3190,2966V2999Z"/>
<path class="hl" d="M2730.5,2999H3190"/>
<path class="sp" d="M2781.5,2999V3147.7M2940,2999V3147.7"/>
<text class="c" x="2960" y="2987.5">DatasetBase</text>
<text class="c" x="2756" y="3023.7">PK<tspan x="2756" dy="37">FK</tspan></text>
<text x="2786.5" y="3023.7">id<tspan x="2786.5" dy="37">instance_id</tspan><tspan x="2786.5" dy="37">parent_data</tspan><tspan x="2786.5" dy="37">metadata_json</tspan></text>
<text x="2945" y="3023.7">BigAutoField<tspan x="2945" dy="37">ForeignKey(instance_id)</tspan><tspan x="2945" dy="37">ForeignKey(id)</tspan><tspan x="2945" dy="37">JSONField</tspan></text>
</g>

<g id="ocr-document">
<rect class="bx" x="2050" y="2740" width="500" height="484" rx="6"/>
<path class="hd" d="M2050,2779V2746Q2050,2740 2056,2740H2544Q2550,2740 2550,2746V2779Z"/>
<path class="hl" d="M2050,2779H2550"/>
<path class="sp" d="M2100,2779V3224M2346,2779V3224"/>
<text class="c" x="2300" y="2767.5">OCRDocument</text>
<text class="c" x="2075" y="2803.7">PK</text>
<text x="2105" y="2803.7">database_ptr<tspan x="2105" dy="37">annotation_bboxes</tspan><tspan x="2105" dy="37">annotation_labels</tspan><tspan x="2105" dy="37">annotation_transcripts</tspan><tspan x="2105" dy="37">file_type</tspan><tspan x="2105" dy="37">file_url</tspan><tspan x="2105" dy="37">image_url</tspan><tspan x="2105" dy="37">language</tspan><tspan x="2105" dy="37">ocr_domain</tspan><tspan x="2105" dy="37">ocr_type</tspan><tspan x="2105" dy="37">page_number</tspan><tspan x="2105" dy="37">prediction_json</tspan></text>
<text x="2351" y="2803.7">OneToOneField(id)<tspan x="2351" dy="37">JSONField</tspan><tspan x="2351" dy="37">JSONField</tspan><tspan x="2351" dy="37">JSONField</tspan><tspan x="2351" dy="37">CharField</tspan><tspan x="2351" dy="37">URLField</tspan><tspan x="2351" dy="37">URLField</tspan><tspan x="2351" dy="37">CharField</tspan><tspan x="2351" dy="37">CharField</tspan><tspan x="2351" dy="37">CharField</tspan><tspan x="2351" dy="37">IntegerField</tspan><tspan x="2351" dy="37">JSONField</tspan></text>
</g>

<g id="translation-pair">
<rect class="bx" x="2051.6" y="3299.6" width="497.9" height="410.4" rx="6"/>
<path class="hd" d="M2051.6,3339.4V3305.6Q2051.6,3299.6 2057.6,3299.6H2543.5Q2549.5,3299.6 2549.5,3305.6V3339.4Z"/>
<path class="hl" d="M2051.6,3339.4H2549.5"/>
<path class="sp" d="M2111,3339.4V3710M2329,3339.4V3710"/>
<text class="c" x="2300.5" y="3327.5">TranslationPair</text>
<text class="c" x="2081.3" y="3363">PK</text>
<text x="2116" y="3363">database_ptr<tspan x="2116" dy="37">context</tspan><tspan x="2116" dy="37">domain</tspan><tspan x="2116" dy="37">input_language</tspan><tspan x="2116" dy="37">input_text</tspan><tspan x="2116" dy="37">labse_score</tspan><tspan x="2116" dy="37">machine_translation</tspan><tspan x="2116" dy="37">output_language</tspan><tspan x="2116" dy="37">output_text</tspan><tspan x="2116" dy="37">rating</tspan></text>
<text x="2334" y="3363">OneToOneField(id)<tspan x="2334" dy="37">TextField</tspan><tspan x="2334" dy="37">CharField</tspan><tspan x="2334" dy="37">CharField</tspan><tspan x="2334" dy="37">TextField</tspan><tspan x="2334" dy="37">DecimalField</tspan><tspan x="2334" dy="37">TextField</tspan><tspan x="2334" dy="37">CharField</tspan><tspan x="2334" dy="37">TextField</tspan><tspan x="2334" dy="37">IntegerField</tspan></text>
</g>

<g id="conversation">
<rect class="bx" x="2671" y="3219" width="680" height="485" rx="6"/>
<path class="hd" d="M2671,3260V3225Q2671,3219 2677,3219H3345Q3351,3219 3351,3225V3260Z"/>
<path class="hl" d="M2671,3260H3351"/>
<path class="sp" d="M2721,3260V3704M3131,3260V3704"/>
<text class="c" x="3011" y="3247.5">Conversation</text>
<text class="c" x="2696" y="3283.7">PK</text>
<text x="2726" y="3283.7">database_ptr<tspan x="2726" dy="37">conversation_json</tspan><tspan x="2726" dy="37">conversation_quality_status</tspan><tspan x="2726" dy="37">domain</tspan><tspan x="2726" dy="37">language</tspan><tspan x="2726" dy="37">machine_translated_conversation_json</tspan><tspan x="2726" dy="37">prompt</tspan><tspan x="2726" dy="37">scenario</tspan><tspan x="2726" dy="37">speaker_count</tspan><tspan x="2726" dy="37">speaker_json</tspan><tspan x="2726" dy="37">topic</tspan><tspan x="2726" dy="37">unverified_conversation_json</tspan></text>
<text x="3136" y="3283.7">OneToOneField(id)<tspan x="3136" dy="37">JSONField</tspan><tspan x="3136" dy="37">CharField</tspan><tspan x="3136" dy="37">CharField</tspan><tspan x="3136" dy="37">CharField</tspan><tspan x="3136" dy="37">JSONField</tspan><tspan x="3136" dy="37">TextField</tspan><tspan x="3136" dy="37">TextField</tspan><tspan x="3136" dy="37">IntegerField</tspan><tspan x="3136" dy="37">JSONField</tspan><tspan x="3136" dy="37">TextField</tspan><tspan x="3136" dy="37">JSONField</tspan></text>
</g>
</svg>
